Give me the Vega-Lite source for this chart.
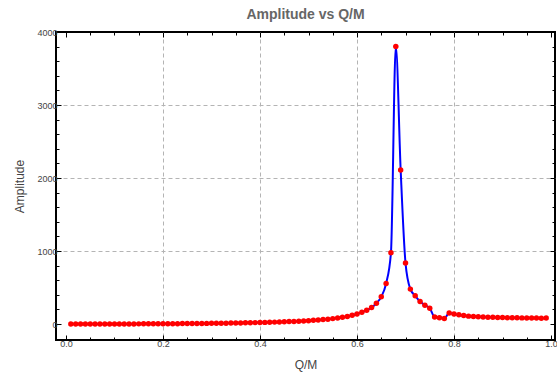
{
  "$schema": "https://vega.github.io/schema/vega-lite/v6.json",
  "width": 499,
  "height": 308,
  "autosize": {"type": "none"},
  "padding": {"left": 56, "top": 32, "right": 2, "bottom": 39},
  "background": "white",
  "config": {
    "view": {"stroke": "black", "strokeWidth": 2},
    "font": "Liberation Sans"
  },
  "title": {
    "text": "Amplitude vs Q/M",
    "fontSize": 14,
    "fontWeight": "bold",
    "color": "#666666",
    "font": "Liberation Sans",
    "offset": 6,
    "anchor": "middle"
  },
  "data": {
    "values": [
      {"qm": 0.01, "amp": 0.01}, {"qm": 0.02, "amp": 0.03}, {"qm": 0.03, "amp": 0.08}, {"qm": 0.04, "amp": 0.14}, {"qm": 0.05, "amp": 0.21},
      {"qm": 0.06, "amp": 0.31}, {"qm": 0.07, "amp": 0.42}, {"qm": 0.08, "amp": 0.55}, {"qm": 0.09, "amp": 0.7}, {"qm": 0.1, "amp": 0.86},
      {"qm": 0.11, "amp": 1.05}, {"qm": 0.12, "amp": 1.25}, {"qm": 0.13, "amp": 1.48}, {"qm": 0.14, "amp": 1.73}, {"qm": 0.15, "amp": 2.0},
      {"qm": 0.16, "amp": 2.29}, {"qm": 0.17, "amp": 2.6}, {"qm": 0.18, "amp": 2.94}, {"qm": 0.19, "amp": 3.3}, {"qm": 0.2, "amp": 3.69},
      {"qm": 0.21, "amp": 4.11}, {"qm": 0.22, "amp": 4.56}, {"qm": 0.23, "amp": 5.04}, {"qm": 0.24, "amp": 5.55}, {"qm": 0.25, "amp": 6.1},
      {"qm": 0.26, "amp": 6.68}, {"qm": 0.27, "amp": 7.3}, {"qm": 0.28, "amp": 7.96}, {"qm": 0.29, "amp": 8.67}, {"qm": 0.3, "amp": 9.43},
      {"qm": 0.31, "amp": 10.2}, {"qm": 0.32, "amp": 11.1}, {"qm": 0.33, "amp": 12.0}, {"qm": 0.34, "amp": 13.0}, {"qm": 0.35, "amp": 14.1},
      {"qm": 0.36, "amp": 15.2}, {"qm": 0.37, "amp": 16.4}, {"qm": 0.38, "amp": 17.7}, {"qm": 0.39, "amp": 19.1}, {"qm": 0.4, "amp": 20.6},
      {"qm": 0.41, "amp": 22.3}, {"qm": 0.42, "amp": 24.1}, {"qm": 0.43, "amp": 26.0}, {"qm": 0.44, "amp": 28.1}, {"qm": 0.45, "amp": 30.4},
      {"qm": 0.46, "amp": 32.9}, {"qm": 0.47, "amp": 35.7}, {"qm": 0.48, "amp": 38.7}, {"qm": 0.49, "amp": 42.1}, {"qm": 0.5, "amp": 45.9},
      {"qm": 0.51, "amp": 50.1}, {"qm": 0.52, "amp": 54.9}, {"qm": 0.53, "amp": 60.4}, {"qm": 0.54, "amp": 66.6}, {"qm": 0.55, "amp": 73.8},
      {"qm": 0.56, "amp": 82.2}, {"qm": 0.57, "amp": 92.2}, {"qm": 0.58, "amp": 104}, {"qm": 0.59, "amp": 119}, {"qm": 0.6, "amp": 137},
      {"qm": 0.61, "amp": 161}, {"qm": 0.62, "amp": 189}, {"qm": 0.63, "amp": 225}, {"qm": 0.64, "amp": 285}, {"qm": 0.65, "amp": 372},
      {"qm": 0.66, "amp": 556}, {"qm": 0.67, "amp": 977}, {"qm": 0.68, "amp": 3800}, {"qm": 0.69, "amp": 2110}, {"qm": 0.7, "amp": 835},
      {"qm": 0.71, "amp": 478}, {"qm": 0.72, "amp": 386}, {"qm": 0.73, "amp": 308}, {"qm": 0.74, "amp": 258}, {"qm": 0.75, "amp": 216},
      {"qm": 0.76, "amp": 97}, {"qm": 0.77, "amp": 87}, {"qm": 0.78, "amp": 75}, {"qm": 0.79, "amp": 152}, {"qm": 0.8, "amp": 138},
      {"qm": 0.81, "amp": 126}, {"qm": 0.82, "amp": 116}, {"qm": 0.83, "amp": 108}, {"qm": 0.84, "amp": 102}, {"qm": 0.85, "amp": 98},
      {"qm": 0.86, "amp": 96}, {"qm": 0.87, "amp": 94}, {"qm": 0.88, "amp": 92}, {"qm": 0.89, "amp": 90}, {"qm": 0.9, "amp": 89},
      {"qm": 0.91, "amp": 87}, {"qm": 0.92, "amp": 86}, {"qm": 0.93, "amp": 85}, {"qm": 0.94, "amp": 84}, {"qm": 0.95, "amp": 83},
      {"qm": 0.96, "amp": 82}, {"qm": 0.97, "amp": 81}, {"qm": 0.98, "amp": 80}, {"qm": 0.99, "amp": 81}
    ]
  },
  "layer": [
    {
      "mark": {"type": "line", "color": "#0000ff", "strokeWidth": 2, "interpolate": "monotone"},
      "encoding": {
        "x": {
          "field": "qm", "type": "quantitative",
          "scale": {"domain": [-0.0206, 1.0082], "nice": false, "zero": false},
          "axis": {
            "orient": "bottom",
            "title": "Q/M",
            "titleFontSize": 12, "titleFontWeight": "normal", "titleColor": "#444444", "titlePadding": 11,
            "values": [0, 0.05, 0.1, 0.15, 0.2, 0.25, 0.3, 0.35, 0.4, 0.45, 0.5, 0.55, 0.6, 0.65, 0.7, 0.75, 0.8, 0.85, 0.9, 0.95, 1.0],
            "labelExpr": "abs(datum.value*5 - round(datum.value*5)) < 1e-6 ? format(datum.value, '.1f') : ''",
            "labelFontSize": 9, "labelColor": "#444444", "labelPadding": 4, "labelFlush": false,
            "domain": false,
            "tickColor": "black", "tickWidth": 1,
            "tickSize": {"condition": {"test": "abs(datum.value*5 - round(datum.value*5)) < 1e-6", "value": -5}, "value": -3},
            "grid": true, "gridColor": "#b4b4b4", "gridDash": [4, 3], "gridWidth": 1,
            "gridOpacity": {"condition": {"test": "abs(datum.value*5 - round(datum.value*5)) < 1e-6 && datum.value > 0.01 && datum.value < 0.99", "value": 1}, "value": 0}
          }
        },
        "y": {
          "field": "amp", "type": "quantitative",
          "scale": {"domain": [-219, 4000], "nice": false, "zero": false},
          "axis": {
            "orient": "left",
            "title": "Amplitude",
            "titleFontSize": 12, "titleFontWeight": "normal", "titleColor": "#444444", "titlePadding": 10,
            "values": [0, 200, 400, 600, 800, 1000, 1200, 1400, 1600, 1800, 2000, 2200, 2400, 2600, 2800, 3000, 3200, 3400, 3600, 3800, 4000],
            "labelExpr": "datum.value % 1000 == 0 ? datum.value : ''",
            "labelFontSize": 9, "labelColor": "#444444", "labelPadding": 4, "labelFlush": false,
            "domain": false,
            "tickColor": "black", "tickWidth": 1,
            "tickSize": {"condition": {"test": "datum.value % 1000 == 0", "value": -5}, "value": -3},
            "grid": true, "gridColor": "#b4b4b4", "gridDash": [4, 3], "gridWidth": 1,
            "gridOpacity": {"condition": {"test": "datum.value % 1000 == 0 && datum.value > 0 && datum.value < 4000", "value": 1}, "value": 0}
          }
        }
      }
    },
    {
      "mark": {"type": "point", "filled": true, "color": "#ff0000", "size": 30, "opacity": 1},
      "encoding": {
        "x": {
          "field": "qm", "type": "quantitative",
          "axis": {
            "orient": "top", "title": null, "labels": false, "domain": false, "grid": false,
            "values": [0, 0.05, 0.1, 0.15, 0.2, 0.25, 0.3, 0.35, 0.4, 0.45, 0.5, 0.55, 0.6, 0.65, 0.7, 0.75, 0.8, 0.85, 0.9, 0.95, 1.0],
            "tickColor": "black", "tickWidth": 1,
            "tickSize": {"condition": {"test": "abs(datum.value*5 - round(datum.value*5)) < 1e-6", "value": -5}, "value": -3}
          }
        },
        "y": {
          "field": "amp", "type": "quantitative",
          "axis": {
            "orient": "right", "title": null, "labels": false, "domain": false, "grid": false,
            "values": [0, 200, 400, 600, 800, 1000, 1200, 1400, 1600, 1800, 2000, 2200, 2400, 2600, 2800, 3000, 3200, 3400, 3600, 3800, 4000],
            "tickColor": "black", "tickWidth": 1,
            "tickSize": {"condition": {"test": "datum.value % 1000 == 0", "value": -5}, "value": -3}
          }
        }
      }
    }
  ],
  "resolve": {"axis": {"x": "independent", "y": "independent"}}
}
